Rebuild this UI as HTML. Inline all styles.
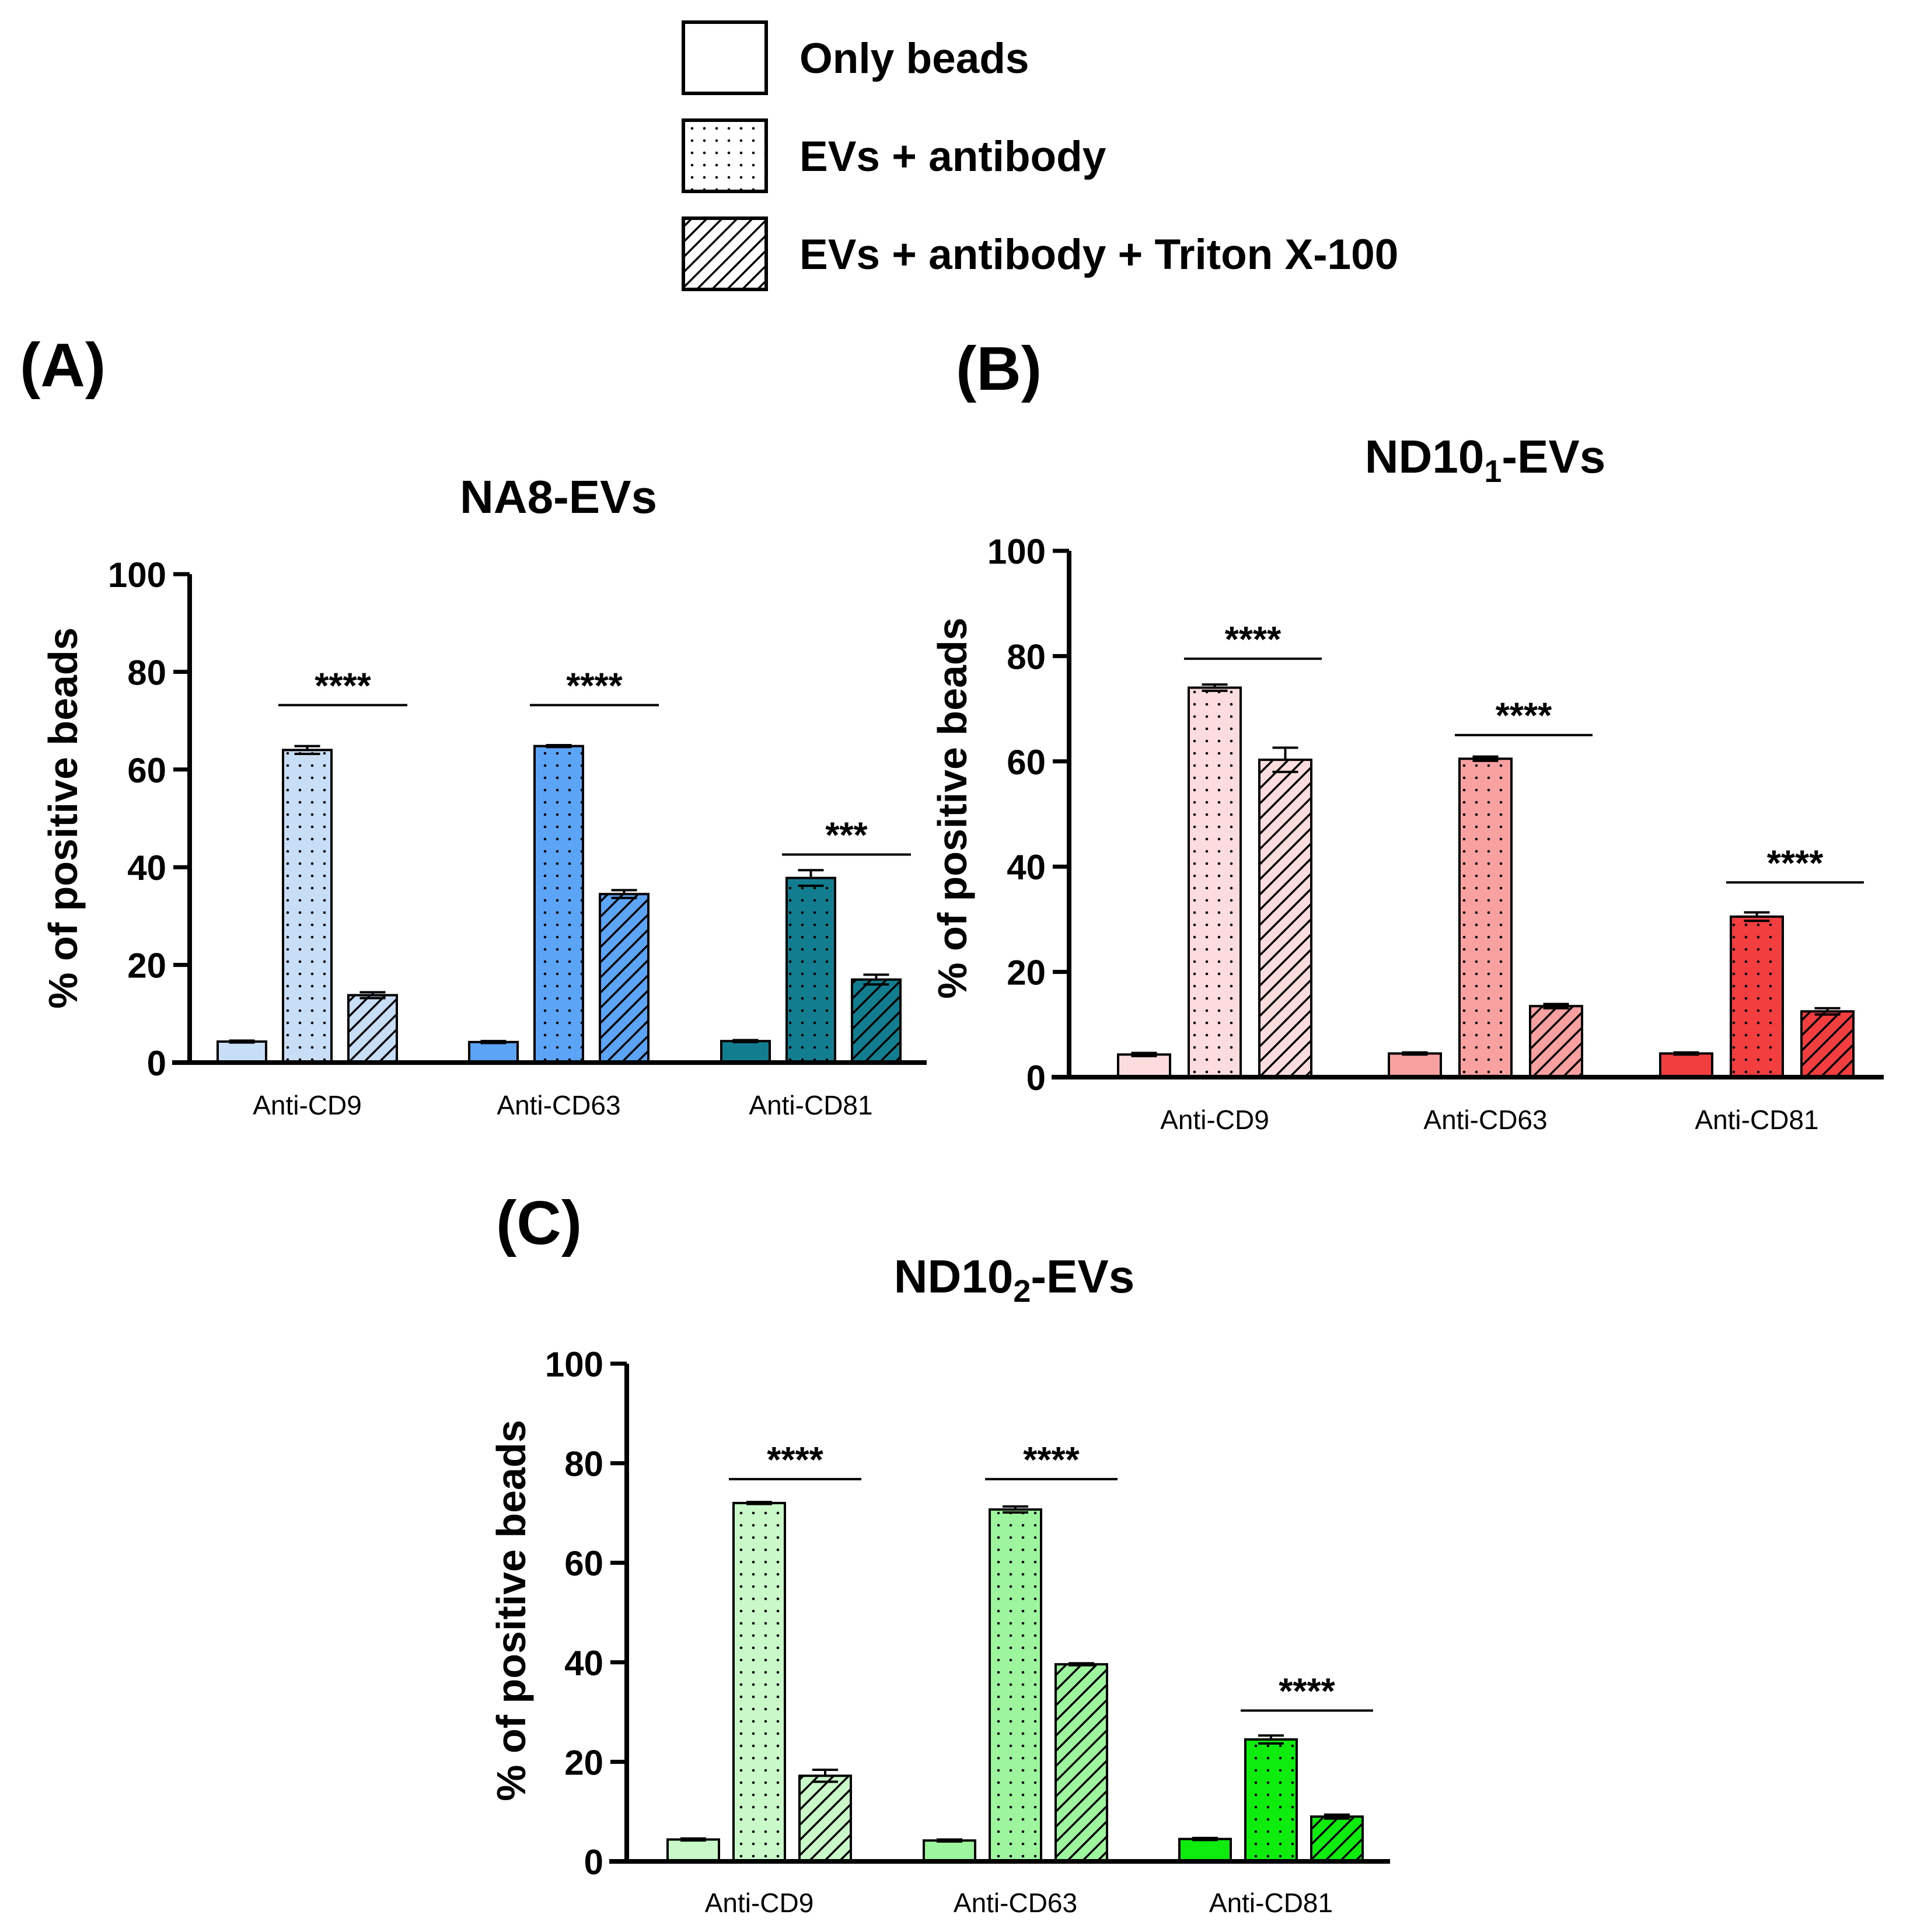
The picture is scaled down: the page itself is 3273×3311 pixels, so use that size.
<!DOCTYPE html>
<html><head><meta charset="utf-8"><style>
html,body{margin:0;padding:0;background:#fff}
svg{display:block}
text{font-family:"Liberation Sans",sans-serif}
</style></head>
<body>
<svg id="fig" width="3273" height="3311" viewBox="0 0 3273 3311" xmlns="http://www.w3.org/2000/svg">
<defs id="defs"></defs>
<g>
  <rect x="1171" y="38" width="142" height="122" fill="#fff" stroke="#000" stroke-width="6"/>
  <rect x="1171" y="206" width="142" height="122" fill="url(#leg-dots)" stroke="#000" stroke-width="6"/>
  <rect x="1171" y="374" width="142" height="122" fill="url(#leg-hatch)" stroke="#000" stroke-width="6"/>
  <text x="1370" y="125" font-size="73" font-weight="bold">Only beads</text>
  <text x="1370" y="293" font-size="73" font-weight="bold">EVs + antibody</text>
  <text x="1370" y="461" font-size="73" font-weight="bold">EVs + antibody + Triton X-100</text>
</g>
<text x="34" y="662" font-size="106" font-weight="bold">(A)</text>
<text x="1638" y="668" font-size="106" font-weight="bold">(B)</text>
<text x="850" y="2132" font-size="106" font-weight="bold">(C)</text>
<g id="charts"></g>
</svg>
<script>
const categories = ["Anti-CD9", "Anti-CD63", "Anti-CD81"];
const tickValues = [0, 20, 40, 60, 80, 100];
const seriesNames = ["Only beads", "EVs + antibody", "EVs + antibody + Triton X-100"];
const aOnly = [4.3, 4.2, 4.4];
const aEvs = [64.0, 64.8, 37.8];
const aTriton = [13.8, 34.5, 17.0];
const aErrOnly = [0.2, 0.2, 0.2];
const aErrEvs = [0.8, 0.2, 1.6];
const aErrTriton = [0.6, 0.8, 1.0];
const aSig = ["****", "****", "***"];
const aSigY = [73.2, 73.2, 42.6];
const bOnly = [4.3, 4.5, 4.5];
const bEvs = [74.0, 60.5, 30.5];
const bTriton = [60.3, 13.5, 12.5];
const bErrOnly = [0.3, 0.2, 0.2];
const bErrEvs = [0.6, 0.4, 0.8];
const bErrTriton = [2.3, 0.4, 0.6];
const bSig = ["****", "****", "****"];
const bSigY = [79.5, 65.0, 37.0];
const cOnly = [4.4, 4.2, 4.5];
const cEvs = [72.0, 70.7, 24.5];
const cTriton = [17.2, 39.6, 9.0];
const cErrOnly = [0.2, 0.2, 0.2];
const cErrEvs = [0.2, 0.6, 0.8];
const cErrTriton = [1.2, 0.2, 0.4];
const cSig = ["****", "****", "****"];
const cSigY = [76.8, 76.8, 30.3];

const NS = "http://www.w3.org/2000/svg";
const defs = document.getElementById('defs');
function mk(tag, attrs, parent) {
  const e = document.createElementNS(NS, tag);
  for (const k in attrs) e.setAttribute(k, attrs[k]);
  if (parent) parent.appendChild(e);
  return e;
}
function dotPattern(id, color) {
  const p = mk('pattern', {id: id, width: 21, height: 21, patternUnits: 'userSpaceOnUse'}, defs);
  mk('rect', {width: 21, height: 21, fill: color}, p);
  mk('circle', {cx: 10, cy: 10, r: 2.3, fill: '#000'}, p);
}
function hatchPattern(id, color) {
  const p = mk('pattern', {id: id, width: 26, height: 26, patternUnits: 'userSpaceOnUse'}, defs);
  mk('rect', {width: 26, height: 26, fill: color}, p);
  mk('path', {d: 'M-6,32 L32,-6 M-6,6 L6,-6 M20,32 L32,20', stroke: '#000', 'stroke-width': 3.5}, p);
}
dotPattern('leg-dots', '#fff');
hatchPattern('leg-hatch', '#fff');

const charts = document.getElementById('charts');
function drawChart(cfg) {
  const g = mk('g', {}, charts);
  
  
  const yScale = v => cfg.y0 - (v / 100) * (cfg.y0 - cfg.y100);
  const colors = cfg.colors;
  colors.forEach((c, i) => { dotPattern(cfg.id + 'd' + i, c); hatchPattern(cfg.id + 'h' + i, c); });
  const t = mk('text', {x: cfg.titleX, y: cfg.titleY, 'font-size': 80, 'font-weight': 'bold', 'text-anchor': 'middle'}, g);
  
  
  if (cfg.sub) {
    t.appendChild(document.createTextNode('ND10'));
    const s = mk('tspan', {'font-size': 54, dy: 16}, t); s.textContent = cfg.sub;
    const r = mk('tspan', {dy: -16}, t); r.textContent = '-EVs';
  } else t.textContent = cfg.title;
  const yt = mk('text', {x: 0, y: 0, 'font-size': 70, 'font-weight': 'bold', 'text-anchor': 'middle', transform: `translate(${cfg.ytX},${cfg.ytY}) rotate(-90)`}, g);
  
  
  yt.textContent = '% of positive beads';
  const series = [cfg.only, cfg.evs, cfg.triton];
  const errs = [cfg.eOnly, cfg.eEvs, cfg.eTriton];
  const barW = cfg.barW;
  for (let ci = 0; ci < categories.length; ci++) {
    for (let si = 0; si < 3; si++) {
      const x = cfg.groupX[ci] + si * cfg.step;
      const v = series[si][ci];
      const fill = si === 0 ? colors[ci] : si === 1 ? `url(#${cfg.id}d${ci})` : `url(#${cfg.id}h${ci})`;
      const b = mk('rect', {x: x, y: yScale(v), width: barW, height: cfg.y0 - yScale(v), fill: fill, stroke: '#000', 'stroke-width': 4}, g);
      
      
      const e = errs[si][ci];
      const cx = x + barW / 2;
      const ep = mk('path', {d: `M${cx},${yScale(v + e)} V${yScale(v)} M${cx - 22},${yScale(v + e)} H${cx + 22} M${cx - 22},${yScale(v - e)} H${cx + 22}`, stroke: '#000', 'stroke-width': 4, fill: 'none'}, g);
      
      
    }
    const lx1 = cfg.groupX[ci] + cfg.step - 8, lx2 = cfg.groupX[ci] + 2 * cfg.step + barW + 18;
    const ly = yScale(cfg.sigY[ci]);
    const sl = mk('line', {x1: lx1, x2: lx2, y1: ly, y2: ly, stroke: '#000', 'stroke-width': 4}, g);
    
    
    const st = mk('text', {x: (lx1 + lx2) / 2, y: ly - 12, 'font-size': 62, 'font-weight': 'bold', 'text-anchor': 'middle'}, g);
    
    
    st.textContent = cfg.sig[ci];
    const cl = mk('text', {x: cfg.groupX[ci] + cfg.step + barW / 2, y: cfg.catY, 'font-size': 46, 'text-anchor': 'middle'}, g);
    
    
    cl.textContent = categories[ci];
  }
  const ax = mk('path', {d: `M${cfg.axX},${cfg.y100} V${cfg.y0} M${cfg.axX - 30},${cfg.y0} H${cfg.axEnd}`, stroke: '#000', 'stroke-width': 8, fill: 'none'}, g);
  
  
  tickValues.forEach(v => {
    const tk = mk('line', {x1: cfg.axX - 28, x2: cfg.axX, y1: yScale(v), y2: yScale(v), stroke: '#000', 'stroke-width': 7}, g);
    
    
    const tl = mk('text', {x: cfg.axX - 40, y: yScale(v) + 22, 'font-size': 60, 'font-weight': 'bold', 'text-anchor': 'end'}, g);
    
    
    tl.textContent = v;
  });
}
drawChart({name: 'chart-na8', id: 'a', title: 'NA8-EVs', titleX: 957, titleY: 879, ytX: 132, ytY: 1402,
  axX: 325, axEnd: 1588, y0: 1821, y100: 984, groupX: [373, 804, 1236], step: 112, barW: 83, catY: 1910,
  colors: ['#c8ddf6', '#5ba4f6', '#127d8e'], only: aOnly, evs: aEvs, triton: aTriton,
  eOnly: aErrOnly, eEvs: aErrEvs, eTriton: aErrTriton, sig: aSig, sigY: aSigY});
drawChart({name: 'chart-nd10-1', id: 'b', sub: '1', titleX: 2545, titleY: 810, ytX: 1656, ytY: 1385,
  axX: 1832, axEnd: 3228, y0: 1846, y100: 944, groupX: [1916, 2380, 2845], step: 121, barW: 89, catY: 1935,
  colors: ['#fcdcdc', '#f9a0a0', '#f23e3e'], only: bOnly, evs: bEvs, triton: bTriton,
  eOnly: bErrOnly, eEvs: bErrEvs, eTriton: bErrTriton, sig: bSig, sigY: bSigY});
drawChart({name: 'chart-nd10-2', id: 'c', sub: '2', titleX: 1738, titleY: 2215, ytX: 900, ytY: 2760,
  axX: 1074, axEnd: 2382, y0: 3190, y100: 2337, groupX: [1144, 1583, 2021], step: 113, barW: 88, catY: 3277,
  colors: ['#c9f8c9', '#9df59d', '#0eec0e'], only: cOnly, evs: cEvs, triton: cTriton,
  eOnly: cErrOnly, eEvs: cErrEvs, eTriton: cErrTriton, sig: cSig, sigY: cSigY});
</script>
</body></html>
